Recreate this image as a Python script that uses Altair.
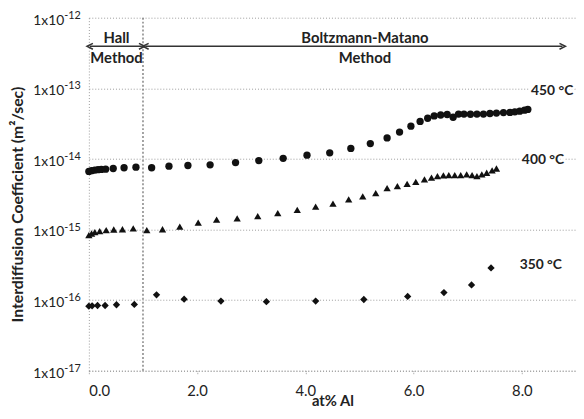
import altair as alt
import pandas as pd

FONT = "Lato"

# ---- data ----
x450 = [0.00, 0.05, 0.11, 0.17, 0.23, 0.31, 0.45, 0.65, 0.87, 1.16, 1.48, 1.83, 2.24, 2.71,
        3.14, 3.59, 4.03, 4.45, 4.84, 5.20, 5.51, 5.74, 5.95, 6.12, 6.26, 6.38, 6.50, 6.62,
        6.73, 6.83, 6.93, 7.05, 7.17, 7.29, 7.41, 7.53, 7.66, 7.78, 7.87, 7.96, 8.05, 8.11]
y450 = [6.65e-15, 6.81e-15, 6.94e-15, 7.03e-15, 7.10e-15, 7.16e-15, 7.32e-15, 7.49e-15,
        7.63e-15, 7.49e-15, 7.88e-15, 8.07e-15, 8.25e-15, 8.88e-15, 9.47e-15, 1.02e-14,
        1.13e-14, 1.22e-14, 1.41e-14, 1.65e-14, 1.98e-14, 2.40e-14, 2.91e-14, 3.40e-14,
        3.77e-14, 4.06e-14, 4.19e-14, 4.26e-14, 3.89e-14, 4.31e-14, 4.31e-14, 4.29e-14,
        4.32e-14, 4.31e-14, 4.40e-14, 4.46e-14, 4.53e-14, 4.55e-14, 4.65e-14, 4.75e-14,
        4.90e-14, 5.02e-14]

x400 = [0.00, 0.05, 0.11, 0.20, 0.32, 0.46, 0.62, 0.82, 1.07, 1.36, 1.68, 2.02, 2.36, 2.74,
        3.12, 3.49, 3.85, 4.19, 4.51, 4.80, 5.06, 5.30, 5.51, 5.70, 5.88, 6.04, 6.20, 6.33,
        6.44, 6.55, 6.65, 6.76, 6.87, 6.98, 7.08, 7.17, 7.26, 7.35, 7.45, 7.53]
y400 = [8.33e-16, 8.79e-16, 9.17e-16, 9.47e-16, 9.78e-16, 1.00e-15, 1.01e-15, 1.04e-15,
        9.78e-16, 1.01e-15, 1.10e-15, 1.25e-15, 1.38e-15, 1.44e-15, 1.55e-15, 1.71e-15,
        1.90e-15, 2.11e-15, 2.33e-15, 2.67e-15, 2.94e-15, 3.28e-15, 3.85e-15, 4.11e-15,
        4.43e-15, 4.72e-15, 5.12e-15, 5.42e-15, 5.72e-15, 5.85e-15, 5.90e-15, 5.90e-15,
        5.90e-15, 6.04e-15, 5.90e-15, 5.72e-15, 6.04e-15, 6.36e-15, 6.87e-15, 7.32e-15]

x350 = [0.00, 0.06, 0.16, 0.30, 0.51, 0.84, 1.25, 1.76, 2.44, 3.28, 4.19, 5.08, 5.89, 6.56,
        7.07, 7.43]
y350 = [8.2e-17, 8.3e-17, 8.4e-17, 8.4e-17, 8.6e-17, 8.7e-17, 1.19e-16, 1.03e-16, 9.7e-17,
        9.5e-17, 9.7e-17, 1.02e-16, 1.13e-16, 1.28e-16, 1.64e-16, 2.86e-16]

temps = ["350", "400", "450"]
shapes = ["diamond", "triangle-up", "circle"]
sizes = [55, 55, 68]

series_labels = ["450 °C", "400 °C", "350 °C"]
series_label_x = [8.56, 8.39, 8.35]
series_label_y = [9.0e-14, 9.5e-15, 3.1e-16]

y_exponents = [-12, -13, -14, -15, -16, -17]
x_ticks = [0, 2, 4, 6, 8]

method_boundary = [1.0]
ann_text = ["Hall", "Method", "Boltzmann-Matano", "Method"]
ann_x = [0.51, 0.51, 5.10, 5.10]
ann_y = [5.1e-13, 2.7e-13, 5.1e-13, 2.7e-13]
arrow_start = [0.02, 1.05]
arrow_end = [0.98, 8.75]
arrow_y = [3.94e-13, 3.94e-13]

# ---- tables ----
rows = []
for t, xs, ys in (("450", x450, y450), ("400", x400, y400), ("350", x350, y350)):
    for a, b in zip(xs, ys):
        rows.append({"x": a, "D": b, "temp": t})
df = pd.DataFrame(rows)

lab_df = pd.DataFrame({"x": series_label_x, "D": series_label_y, "label": series_labels})
ylab_df = pd.DataFrame({"D": [10.0 ** e for e in y_exponents],
                        "base": ["1x10"] * len(y_exponents),
                        "exp": [str(e) for e in y_exponents]})
bound_df = pd.DataFrame({"x": method_boundary})
ann_df = pd.DataFrame({"x": ann_x, "D": ann_y, "t": ann_text})
arr_df = pd.DataFrame({"x": arrow_start, "x2": arrow_end, "D": arrow_y})

xscale = alt.Scale(domain=[0, 9], nice=False, zero=False)
yscale = alt.Scale(type="log", domain=[1e-17, 1e-12], nice=False)

X = alt.X("x:Q", scale=xscale)
Y = alt.Y("D:Q", scale=yscale)

points = alt.Chart(df).mark_point(filled=True, opacity=1).encode(
    x=alt.X("x:Q", scale=xscale, axis=alt.Axis(
        values=x_ticks, format=".1f", title="at% Al", grid=False,
        domain=True, domainColor="#9a9a9a", domainDash=[1, 2], domainWidth=1,
        ticks=True, tickColor="#9a9a9a", tickSize=3, tickDash=[1, 1],
        labelFont=FONT, labelFontSize=15, labelColor="#222", labelPadding=10,
        titleFont=FONT, titleFontSize=15, titleFontWeight="bold", titleColor="#222",
        titleX=247, titleY=30, titleBaseline="middle", titleAlign="center")),
    y=alt.Y("D:Q", scale=yscale, axis=alt.Axis(
        values=[10.0 ** e for e in y_exponents], labels=False, ticks=False,
        grid=True, gridColor="#9a9a9a", gridDash=[1, 2], gridWidth=1,
        domain=True, domainColor="#9a9a9a", domainDash=[1, 2], domainWidth=1,
        title="Interdiffusion Coefficient (m²/sec)",
        titleFont=FONT, titleFontSize=16, titleFontWeight="bold", titleColor="#222",
        titleX=-72, titleY=189, titleAngle=-90, titleBaseline="middle", titleAlign="center")),
    shape=alt.Shape("temp:N", scale=alt.Scale(domain=temps, range=shapes), legend=None),
    size=alt.Size("temp:N", scale=alt.Scale(domain=temps, range=sizes), legend=None),
    color=alt.value("#111"),
)

boundary = alt.Chart(bound_df).mark_rule(color="#666", strokeDash=[2, 2], strokeWidth=1.2).encode(
    x=X)

ybase = alt.Chart(ylab_df).mark_text(align="right", baseline="middle", font=FONT,
                                     fontSize=14, color="#222", dy=3).encode(
    x=alt.value(-25), y=Y, text="base:N")
yexp = alt.Chart(ylab_df).mark_text(align="left", baseline="middle", font=FONT,
                                    fontSize=11, color="#222", dy=-2).encode(
    x=alt.value(-25), y=Y, text="exp:N")

lab_halo = alt.Chart(lab_df).mark_text(font=FONT, fontSize=14, fontWeight="bold",
                                       stroke="white", strokeWidth=5, color="white").encode(
    x=X, y=Y, text="label:N")
lab = alt.Chart(lab_df).mark_text(font=FONT, fontSize=14, fontWeight="bold", color="#222").encode(
    x=X, y=Y, text="label:N")

ann = alt.Chart(ann_df).mark_text(font=FONT, fontSize=15, fontWeight="bold", color="#222").encode(
    x=X, y=Y, text="t:N")

arr_line = alt.Chart(arr_df).mark_rule(color="#333", strokeWidth=1.3).encode(
    x=X, x2="x2:Q", y=Y)
arr_l = alt.Chart(arr_df).mark_point(shape="M1,-1L-1,0L1,1", filled=False, size=36,
                                     strokeWidth=1.5, color="#333", opacity=1).encode(
    x=X, y=Y)
arr_r = alt.Chart(arr_df).mark_point(shape="M-1,-1L1,0L-1,1", filled=False, size=36,
                                     strokeWidth=1.5, color="#333", opacity=1).encode(
    x=alt.X("x2:Q", scale=xscale), y=Y)

chart = alt.layer(points, boundary, ybase, yexp, lab_halo, lab, ann, arr_line, arr_l, arr_r).properties(
    width=494, height=358,
    autosize=alt.AutoSizeParams(type="none"),
    padding={"left": 82, "top": 7, "right": 0, "bottom": 38},
    background="white",
).configure_view(stroke=None)

chart.save("out.html", embed_options={"renderer": "svg", "actions": False})
